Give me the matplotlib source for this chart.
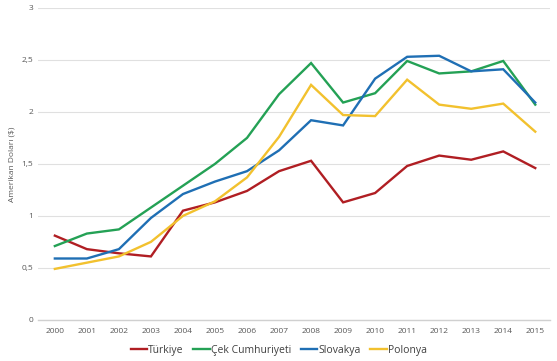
import numpy as np
import matplotlib
matplotlib.use('Agg')
import matplotlib.pyplot as plt
from matplotlib.ticker import FuncFormatter

plt.rcParams['font.family'] = ['Open Sans', 'DejaVu Sans']

years = [str(y) for y in range(2000, 2016)]
turkiye = [0.81, 0.68, 0.64, 0.61, 1.05, 1.13, 1.24, 1.43, 1.53, 1.13, 1.22, 1.48, 1.58, 1.54, 1.62, 1.46]
cek = [0.71, 0.83, 0.87, 1.08, 1.29, 1.50, 1.75, 2.17, 2.47, 2.09, 2.18, 2.49, 2.37, 2.39, 2.49, 2.07]
slovakya = [0.59, 0.59, 0.68, 0.98, 1.21, 1.33, 1.43, 1.63, 1.92, 1.87, 2.32, 2.53, 2.54, 2.39, 2.41, 2.09]
polonya = [0.49, 0.55, 0.61, 0.75, 1.00, 1.14, 1.37, 1.76, 2.26, 1.97, 1.96, 2.31, 2.07, 2.03, 2.08, 1.81]

series = [
    ('Türkiye', turkiye, '#B01E23'),
    ('Çek Cumhuriyeti', cek, '#24A155'),
    ('Slovakya', slovakya, '#1F6FB4'),
    ('Polonya', polonya, '#F2C12E'),
]

fig = plt.figure(figsize=(5.57, 3.61), dpi=100)
ax = fig.add_axes([0.068, 0.114, 0.92, 0.864])

x = np.arange(len(years))
for name, vals, col in series:
    ax.plot(x, vals, color=col, lw=1.7, label=name, solid_joinstyle='miter')

ax.set_xlim(-0.53, 15.47)
ax.set_ylim(0, 3)
ax.set_xticks(x)
ax.set_xticklabels(years)
ax.set_yticks([0, 0.5, 1, 1.5, 2, 2.5, 3])
ax.yaxis.set_major_formatter(FuncFormatter(lambda v, p: ('%g' % v).replace('.', ',')))
ax.tick_params(axis='both', length=0, labelsize=6, labelcolor='#595959')
ax.tick_params(axis='x', pad=6)
ax.grid(axis='y', color='#E0E0E0', lw=0.8)
ax.set_axisbelow(True)
for s in ['top', 'right', 'left']:
    ax.spines[s].set_visible(False)
ax.spines['bottom'].set_color('#D0D0D0')
ax.spines['bottom'].set_linewidth(1.0)

ax.set_ylabel('Amerikan Doları ($)', fontsize=6, color='#595959', labelpad=4)

ax.legend(loc='center', bbox_to_anchor=(0.47, -0.097), ncol=4, frameon=False,
          fontsize=7.5, handlelength=1.6, handletextpad=0.1, columnspacing=0.9,
          labelcolor='#404040', borderpad=0)

plt.savefig('out.png', dpi=100)
plt.close()
